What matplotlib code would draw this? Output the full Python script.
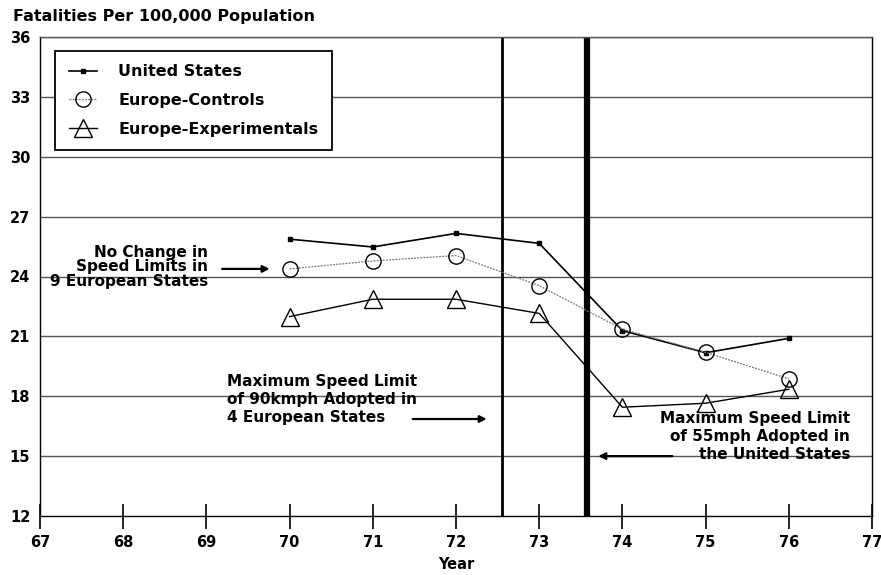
import matplotlib
matplotlib.use("Agg")
import matplotlib.pyplot as plt

plt.rcParams['font.family'] = ['DejaVu Sans']
plt.rcParams['font.weight'] = 'bold'

years = [70, 71, 72, 73, 74, 75, 76]
us = [25.87, 25.48, 26.16, 25.66, 21.29, 20.18, 20.90]
eu_controls = [24.38, 24.78, 25.05, 23.54, 21.36, 20.20, 18.87]
eu_experimentals = [21.99, 22.86, 22.86, 22.15, 17.45, 17.65, 18.35]

x_ticks = [67, 68, 69, 70, 71, 72, 73, 74, 75, 76, 77]
y_ticks = [12, 15, 18, 21, 24, 27, 30, 33, 36]
europe_change_year = 72.55
us_change_year = 73.57

fig = plt.figure(figsize=(8.81, 5.75), dpi=100)
ax = fig.add_axes([40/881, 1-516/575, (872-40)/881, (516-37)/575])

ax.set_xlim(67, 77)
ax.set_ylim(12, 36)
ax.set_xticks(x_ticks)
ax.set_yticks(y_ticks)
ax.set_xticklabels([str(t) for t in x_ticks], fontsize=10.5, fontweight='bold')
ax.set_yticklabels([str(t) for t in y_ticks], fontsize=10.5, fontweight='bold')
ax.tick_params(axis='y', length=0, pad=7)
ax.tick_params(axis='x', direction='inout', length=18, width=1.2, pad=5)

for yv in y_ticks[1:]:
    ax.axhline(yv, color='#555555', lw=1.0, zorder=1)

for s in ax.spines.values():
    s.set_color('black')
    s.set_linewidth(1.0)
ax.spines['top'].set_color('#555555')

ax.axvline(europe_change_year, color='black', lw=2.0, zorder=2)
ax.axvline(us_change_year, color='black', lw=4.5, zorder=2)

ax.plot(years, us, color='black', lw=1.2, marker='s', markersize=3.5,
        markerfacecolor='black', markeredgecolor='black', label='United States', zorder=4)
ax.plot(years, eu_controls, color='#777777', lw=0.9, ls=(0, (1.5, 1)), marker='o', markersize=11,
        markerfacecolor='none', markeredgecolor='black', markeredgewidth=1.0,
        label='Europe-Controls', zorder=4)
ax.plot(years, eu_experimentals, color='black', lw=1.0, marker='^', markersize=12.5,
        markerfacecolor='none', markeredgecolor='black', markeredgewidth=1.0,
        label='Europe-Experimentals', zorder=4)

leg = ax.legend(loc='upper left', bbox_to_anchor=(0.018, 0.971), borderaxespad=0,
                fancybox=False, edgecolor='black', framealpha=1,
                handlelength=1.8, handletextpad=1.3, labelspacing=0.85,
                borderpad=0.85, prop={'weight': 'bold', 'size': 11.5})
leg.get_frame().set_linewidth(1.3)
leg.set_zorder(5)

arrow = dict(arrowstyle='-|>', lw=1.6, color='black', mutation_scale=10,
             shrinkA=0, shrinkB=0)

ax.text(69.02, 24.48, "No Change in\nSpeed Limits in\n9 European States",
        ha='right', va='center', multialignment='right', fontsize=11,
        fontweight='bold', linespacing=0.95, zorder=6)
ax.annotate('', xy=(69.76, 24.38), xytext=(69.19, 24.38), arrowprops=arrow)

ax.text(69.25, 17.86, "Maximum Speed Limit\nof 90kmph Adopted in\n4 European States",
        ha='left', va='center', multialignment='left', fontsize=11,
        fontweight='bold', linespacing=1.25, zorder=6)
ax.annotate('', xy=(72.37, 16.86), xytext=(71.48, 16.86), arrowprops=arrow)

ax.text(76.74, 15.96, "Maximum Speed Limit\nof 55mph Adopted in\nthe United States",
        ha='right', va='center', multialignment='right', fontsize=11,
        fontweight='bold', linespacing=1.25, zorder=6)
ax.annotate('', xy=(73.71, 15.0), xytext=(74.60, 15.0), arrowprops=arrow)

ax.set_xlabel('Year', fontsize=10.5, fontweight='bold', labelpad=5)
fig.text(13/881, 1-17/575, 'Fatalities Per 100,000 Population', ha='left', va='center',
         fontsize=11.5, fontweight='bold')

fig.savefig('out.png', dpi=100)
